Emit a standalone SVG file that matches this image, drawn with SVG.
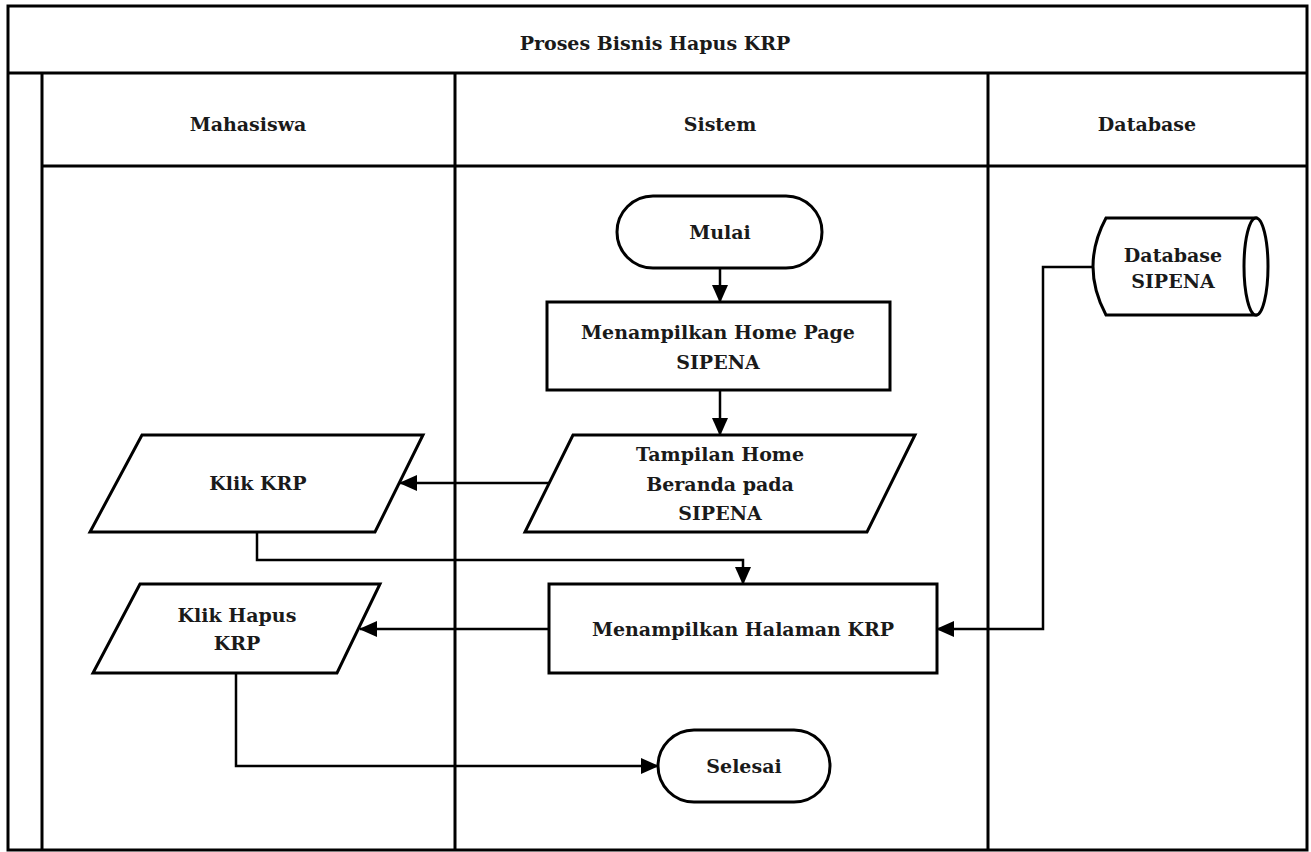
<svg xmlns="http://www.w3.org/2000/svg" width="1311" height="852" viewBox="0 0 1311 852">
<style>
.frame{fill:none;stroke:#000;stroke-width:3}
.shape{fill:#fff;stroke:#000;stroke-width:3}
.conn{fill:none;stroke:#000;stroke-width:2.5}
text{font-family:"DejaVu Serif","Liberation Serif",serif;font-weight:bold;font-size:19px;fill:#1a1a1a;text-anchor:middle;dominant-baseline:central}
</style>
<defs>
<marker id="arr" markerWidth="18" markerHeight="16" refX="17" refY="8" orient="auto" markerUnits="userSpaceOnUse">
<path d="M0,0 L18,8 L0,16 Z" fill="#000"/>
</marker>
</defs>
<rect width="1311" height="852" fill="#fff"/>
<g id="pool">
<rect class="frame" x="8" y="6" width="1299" height="844"/>
<line class="frame" x1="8" y1="73" x2="1307" y2="73"/>
<line class="frame" x1="42" y1="73" x2="42" y2="850"/>
<line class="frame" x1="42" y1="166" x2="1307" y2="166"/>
<line class="frame" x1="455" y1="73" x2="455" y2="850"/>
<line class="frame" x1="988" y1="73" x2="988" y2="850"/>
<text x="655" y="43">Proses Bisnis Hapus KRP</text>
<text x="248" y="124">Mahasiswa</text>
<text x="720" y="124">Sistem</text>
<text x="1147" y="124">Database</text>
</g>
<g id="connectors">
<line class="conn" x1="720" y1="268" x2="720" y2="302" marker-end="url(#arr)"/>
<line class="conn" x1="720" y1="390" x2="720" y2="435" marker-end="url(#arr)"/>
<line class="conn" x1="549" y1="483" x2="400" y2="483" marker-end="url(#arr)"/>
<polyline class="conn" points="257,532 257,560 743,560 743,584" marker-end="url(#arr)"/>
<line class="conn" x1="549" y1="629" x2="360" y2="629" marker-end="url(#arr)"/>
<polyline class="conn" points="1093,267 1043,267 1043,629 937,629" marker-end="url(#arr)"/>
<polyline class="conn" points="236,673 236,766 658,766" marker-end="url(#arr)"/>
</g>
<g id="mulai">
<rect class="shape" x="617" y="196" width="205" height="72" rx="36" ry="36"/>
<text x="720" y="232">Mulai</text>
</g>
<g id="homepage">
<rect class="shape" x="547" y="302" width="343" height="88"/>
<text x="718" y="332">Menampilkan Home Page</text>
<text x="718" y="362">SIPENA</text>
</g>
<g id="tampilan">
<polygon class="shape" points="573,435 915,435 867,532 525,532"/>
<text x="720" y="454">Tampilan Home</text>
<text x="720" y="484">Beranda pada</text>
<text x="720" y="513">SIPENA</text>
</g>
<g id="klikkrp">
<polygon class="shape" points="142,435 423,435 375,532 90,532"/>
<text x="258" y="483">Klik KRP</text>
</g>
<g id="halaman">
<rect class="shape" x="549" y="584" width="388" height="89"/>
<text x="743" y="629">Menampilkan Halaman KRP</text>
</g>
<g id="klikhapus">
<polygon class="shape" points="140,584 380,584 337,673 93,673"/>
<text x="237" y="615">Klik Hapus</text>
<text x="237" y="643">KRP</text>
</g>
<g id="selesai">
<rect class="shape" x="658" y="730" width="172" height="72" rx="36" ry="36"/>
<text x="744" y="766">Selesai</text>
</g>
<g id="database">
<path class="shape" d="M1106,218 L1256,218 L1256,315 L1106,315 Q1080,266.5 1106,218 Z"/>
<ellipse class="shape" cx="1256" cy="266.5" rx="12" ry="48.5"/>
<text x="1173" y="255">Database</text>
<text x="1173" y="281">SIPENA</text>
</g>
</svg>
